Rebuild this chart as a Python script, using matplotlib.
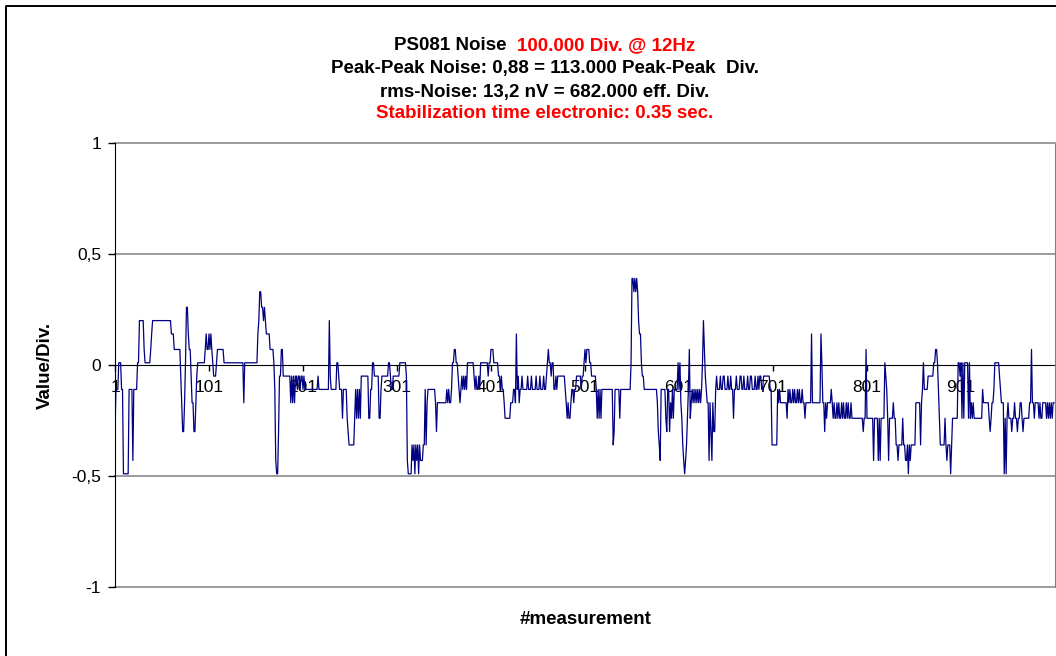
import numpy as np
import matplotlib
matplotlib.use('Agg')
import matplotlib.pyplot as plt
from matplotlib.lines import Line2D

plt.rcParams['font.family'] = ['Liberation Sans', 'DejaVu Sans']

# the signal only takes a few quantised levels (Value/Div.)
level_value = {6: 0.39, 5: 0.33, 4: 0.26, 3: 0.20, 2: 0.14, 1: 0.07, 0: 0.01,
               -1: -0.05, -2: -0.11, -3: -0.17, -4: -0.24, -5: -0.30,
               -6: -0.36, -7: -0.43, -8: -0.49}

# (level, how many measurements in a row) for each block of 100 measurements
runs_001_100 = [(-5, 1), (-2, 3), (0, 3), (-2, 1), (-2, 1), (-8, 6), (-2, 4), (-7, 1),
                (-2, 4), (0, 2), (3, 5), (1, 1), (0, 6), (1, 1), (2, 1), (3, 20), (2, 3),
                (1, 7), (-1, 1), (-3, 1), (-5, 2), (-3, 1), (0, 1), (4, 2), (2, 1), (1, 2),
                (-1, 1), (-3, 2), (-5, 2), (-3, 1), (-1, 1), (0, 8), (1, 1), (2, 1), (1, 2)]
runs_101_200 = [(2, 1), (1, 1), (2, 1), (1, 1), (0, 1), (-1, 3), (0, 1), (1, 7), (0, 21),
                (-3, 1), (0, 14), (2, 1), (3, 1), (5, 2), (4, 2), (3, 1), (4, 1), (3, 1),
                (2, 4), (1, 4), (0, 1), (-2, 1), (-7, 1), (-8, 2), (-5, 1), (-1, 2), (1, 2),
                (-1, 8), (-3, 1), (-1, 1), (-3, 1), (-1, 1), (-3, 1), (-1, 2), (-2, 1),
                (-1, 2), (-2, 1), (-1, 2)]
runs_201_300 = [(-2, 1), (-1, 1), (-2, 2), (-2, 12), (-1, 1), (-2, 11), (3, 1), (-1, 1),
                (-2, 6), (0, 2), (-1, 1), (-2, 3), (-4, 1), (-2, 4), (-4, 1), (-5, 1),
                (-6, 6), (-4, 1), (-2, 1), (-4, 1), (-2, 1), (-4, 1), (-2, 1), (-4, 1),
                (-1, 8), (-4, 2), (-2, 2), (0, 2), (-1, 2), (-1, 3), (-4, 2), (-2, 1),
                (-1, 7), (0, 2), (-1, 1), (-2, 2), (-1, 4)]
runs_301_400 = [(-1, 3), (0, 7), (-1, 1), (-7, 1), (-8, 4), (-6, 1), (-7, 1), (-6, 1),
                (-8, 1), (-6, 1), (-7, 1), (-6, 1), (-8, 1), (-6, 1), (-7, 3), (-6, 2),
                (-2, 1), (-6, 1), (-3, 1), (-2, 8), (-3, 1), (-5, 1), (-3, 10), (-2, 1),
                (-3, 1), (-2, 1), (-3, 2), (-2, 1), (0, 2), (1, 2), (0, 2), (-1, 1),
                (-2, 1), (-3, 1), (-2, 1), (-1, 1), (-2, 1), (-1, 1), (-2, 1), (-1, 1),
                (-2, 1), (0, 7), (-1, 1), (-2, 1), (-1, 1), (-2, 2), (-1, 1), (-2, 1),
                (0, 8), (-1, 1), (0, 2)]
runs_401_500 = [(1, 3), (0, 5), (-1, 2), (-2, 1), (-1, 1), (-2, 2), (-3, 1), (-4, 6),
                (-3, 3), (-2, 2), (-3, 1), (2, 1), (-2, 1), (-1, 1), (-3, 1), (-2, 2),
                (-1, 1), (-2, 2), (-2, 3), (-1, 1), (-2, 3), (-1, 1), (-2, 4), (-1, 1),
                (-2, 3), (-1, 1), (-2, 3), (-1, 1), (-2, 2), (-1, 1), (0, 1), (1, 1),
                (0, 2), (-1, 1), (0, 2), (-2, 2), (-1, 1), (-2, 1), (-1, 8), (-2, 1),
                (-3, 1), (-4, 1), (-3, 1), (-4, 2), (-3, 1), (-2, 2), (-3, 1), (-2, 2),
                (-1, 5), (-2, 1), (-1, 2), (0, 1)]
runs_501_600 = [(1, 1), (0, 1), (1, 3), (0, 2), (-1, 5), (-2, 1), (-4, 1), (-2, 1),
                (-4, 1), (-2, 1), (-4, 1), (-2, 12), (-6, 1), (-5, 1), (-2, 5), (-4, 1),
                (-2, 11), (0, 1), (6, 2), (5, 1), (6, 1), (5, 1), (6, 1), (5, 1), (3, 1),
                (2, 2), (0, 1), (-1, 2), (-2, 14), (-3, 1), (-5, 1), (-6, 1), (-7, 1),
                (-2, 5), (-4, 1), (-5, 1), (-2, 2), (-5, 1), (-3, 1), (-4, 1), (-2, 1),
                (-4, 1), (-2, 4), (0, 1)]
runs_601_700 = [(-2, 1), (0, 1), (-3, 1), (-4, 1), (-6, 1), (-7, 1), (-8, 1), (-7, 1),
                (-6, 1), (-4, 1), (-2, 1), (1, 1), (-4, 1), (-3, 1), (-2, 1), (-3, 1),
                (-2, 1), (-3, 1), (-2, 1), (-3, 1), (-2, 1), (-3, 1), (-2, 1), (-3, 1),
                (-2, 1), (0, 1), (3, 1), (1, 1), (-1, 1), (-2, 1), (-3, 2), (-7, 1),
                (-3, 1), (-5, 1), (-7, 1), (-3, 1), (-5, 2), (-2, 1), (-1, 1), (-2, 3),
                (-1, 1), (-2, 2), (-1, 2), (-2, 3), (-1, 1), (-2, 2), (-1, 1), (-2, 2),
                (-4, 1), (-2, 2), (-1, 1), (-2, 3), (-1, 2), (-2, 2), (-1, 1), (-2, 3),
                (-1, 1), (-2, 2), (-1, 2), (-2, 3), (-1, 1), (-2, 2), (-1, 1), (-2, 1),
                (-1, 2), (-2, 2), (-1, 7), (-2, 2), (-6, 1)]
runs_701_800 = [(-6, 5), (-2, 1), (-3, 1), (-2, 1), (-3, 7), (-4, 1), (-2, 1), (-3, 1),
                (-2, 1), (-3, 2), (-2, 1), (-3, 1), (-2, 1), (-3, 2), (-2, 1), (-3, 1),
                (-2, 1), (-3, 2), (-2, 1), (-3, 1), (-3, 1), (-4, 1), (-3, 6), (2, 1),
                (-3, 9), (2, 1), (0, 1), (-3, 2), (-5, 1), (-3, 1), (-4, 1), (-3, 4),
                (-2, 1), (-3, 1), (-4, 1), (-3, 1), (-4, 2), (-3, 1), (-4, 1), (-3, 1),
                (-4, 2), (-3, 1), (-4, 1), (-3, 1), (-4, 2), (-3, 1), (-4, 1), (-3, 1),
                (-4, 2), (-3, 1), (-4, 12), (-5, 1), (-4, 2), (1, 1)]
runs_801_900 = [(-4, 7), (-7, 1), (-4, 4), (-7, 1), (-4, 1), (-7, 1), (-4, 4), (0, 1),
                (-1, 1), (-2, 1), (-4, 1), (-7, 1), (-4, 4), (-3, 1), (-4, 2), (-6, 2),
                (-7, 1), (-6, 4), (-4, 1), (-6, 2), (-7, 2), (-6, 1), (-8, 1), (-6, 1),
                (-7, 1), (-6, 5), (-3, 5), (-6, 1), (-3, 1), (-2, 1), (0, 1), (-2, 4),
                (-1, 6), (0, 2), (1, 2), (0, 1), (-2, 1), (-4, 1), (-6, 5), (-4, 1),
                (-6, 1), (-7, 1), (-6, 3), (-8, 1), (-6, 1), (-4, 6), (0, 2), (-1, 1)]
runs_901_1000 = [(0, 1), (-4, 1), (0, 1), (-4, 1), (0, 4), (-4, 1), (0, 1), (-4, 1),
                 (-3, 1), (-4, 1), (-3, 1), (-4, 9), (-2, 1), (-3, 6), (-4, 1), (-5, 1),
                 (-4, 1), (-3, 2), (-2, 1), (0, 5), (-1, 1), (-2, 1), (-3, 3), (-8, 1),
                 (-4, 1), (-8, 1), (-4, 1), (-3, 1), (-4, 1), (-4, 2), (-5, 1), (-4, 2),
                 (-3, 1), (-4, 2), (-5, 1), (-4, 2), (-3, 2), (-4, 1), (-5, 1), (-4, 6),
                 (-3, 2), (1, 1), (-3, 2), (-4, 1), (-3, 4), (-4, 1), (-3, 1), (-4, 2),
                 (-3, 4), (-4, 1), (-3, 1), (-4, 1), (-3, 1), (-4, 1), (-3, 1), (-4, 1),
                 (-3, 2)]

x_ticks = [1, 101, 201, 301, 401, 501, 601, 701, 801, 901]
y_ticks = [-1, -0.5, 0, 0.5, 1]
y_tick_labels = ['-1', '-0,5', '0', '0,5', '1']

title_lines = [
    [('PS081 Noise  ', 'black'), ('100.000 Div. @ 12Hz', '#FF0000')],
    [('Peak-Peak Noise: 0,88 = 113.000 Peak-Peak  Div.', 'black')],
    [('rms-Noise: 13,2 nV = 682.000 eff. Div.', 'black')],
    [('Stabilization time electronic: 0.35 sec.', '#FF0000')],
]

# expand the runs into one value per measurement
all_runs = (runs_001_100 + runs_101_200 + runs_201_300 + runs_301_400 + runs_401_500
            + runs_501_600 + runs_601_700 + runs_701_800 + runs_801_900 + runs_901_1000)
codes = np.repeat([k for k, n in all_runs], [n for k, n in all_runs])
values = np.array([level_value[k] for k in codes])
measurement = np.arange(1, len(values) + 1)

W, H = 1056, 656
fig = plt.figure(figsize=(W / 100, H / 100), dpi=100)
ax = fig.add_axes([115 / W, 1 - 587 / H, 940 / W, 444 / H])

ax.plot(measurement, values, color='#000080', lw=0.9, zorder=2)
ax.set_xlim(1, 1001)
ax.set_ylim(-1, 1)

# gray gridlines (also used as top / bottom of the plot area)
for y in [-1, -0.5, 0.5, 1]:
    ax.axhline(y, color='#808080', lw=1.1, clip_on=False, zorder=1)

ax.spines['top'].set_visible(False)
ax.spines['right'].set_color('#808080')
ax.spines['left'].set_color('black')
ax.spines['bottom'].set_position(('data', 0))
ax.spines['bottom'].set_color('black')
ax.spines['bottom'].set_zorder(1.5)

ax.set_xticks(x_ticks)
ax.set_xticklabels([str(t) for t in x_ticks])
ax.set_yticks(y_ticks)
ax.set_yticklabels(y_tick_labels)
ax.tick_params(axis='x', direction='out', length=4, width=1, pad=7, labelsize=12.5)
ax.tick_params(axis='y', direction='out', length=5, width=1, pad=5, labelsize=12.5)

fig.text(45 / W, 1 - 365 / H, 'Value/Div.', rotation=90, ha='center', va='center',
         fontsize=13.5, fontweight='bold')
fig.text(586 / W, 1 - 620 / H, '#measurement', ha='center', va='center',
         fontsize=13.5, fontweight='bold')

# title: several coloured pieces per line, centred as a whole
fig.canvas.draw()
renderer = fig.canvas.get_renderer()
line_y = [46, 69, 92, 114]
for pieces, yc in zip(title_lines, line_y):
    texts = [fig.text(0, 1 - yc / H, s, color=c, ha='left', va='center',
                      fontsize=13.5, fontweight='bold') for s, c in pieces]
    widths = [t.get_window_extent(renderer).width for t in texts]
    x = 545 - sum(widths) / 2
    for t, w in zip(texts, widths):
        t.set_x(x / W)
        x += w

# outer chart frame (left and top edges visible)
fig.add_artist(Line2D([6 / W, 6 / W, 1], [0, 1 - 6 / H, 1 - 6 / H],
                      transform=fig.transFigure, color='black', lw=1.4))

fig.savefig('out.png', dpi=100)
